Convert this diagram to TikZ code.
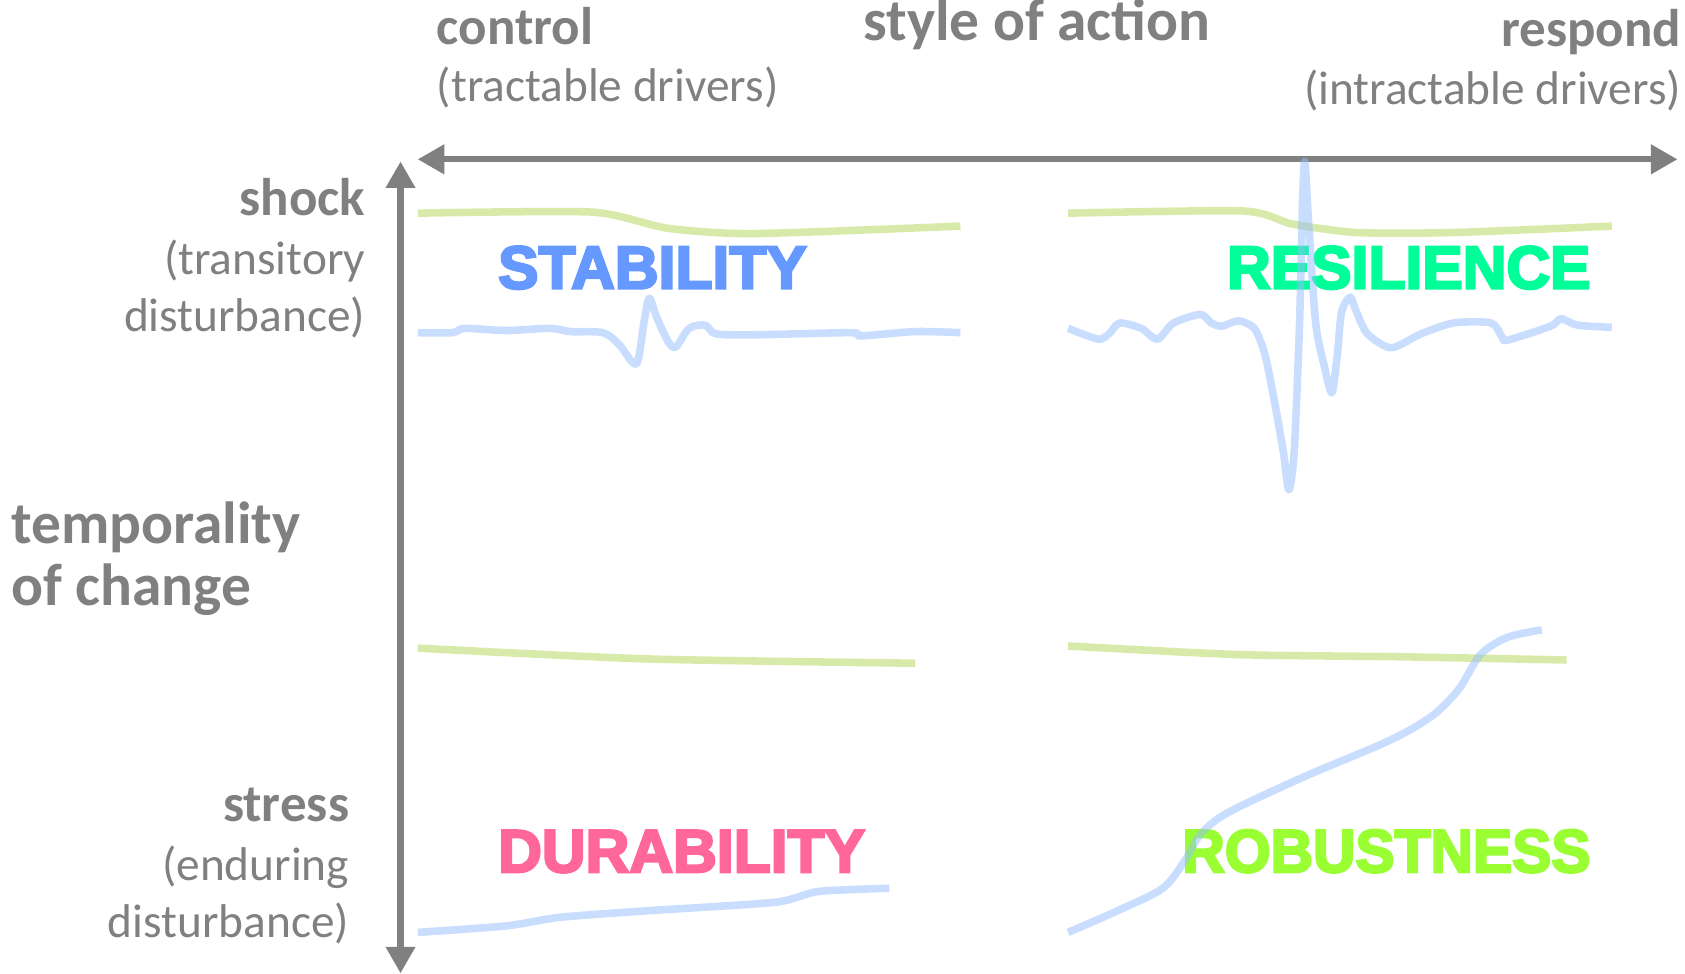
\documentclass[tikz,border=0pt]{standalone}
\usepackage{fontspec}
\setmainfont{Carlito}
\newfontfamily\capsfont[BoldFeatures={FakeBold=4}]{Liberation Sans}
\usetikzlibrary{arrows.meta,positioning}

\definecolor{axisgray}{RGB}{128,128,128}
\definecolor{trendgreen}{RGB}{178,214,86}
\definecolor{signalblue}{RGB}{148,188,255}
\definecolor{stabcol}{RGB}{102,153,255}
\definecolor{rescol}{RGB}{0,255,153}
\definecolor{durcol}{RGB}{255,102,153}
\definecolor{robcol}{RGB}{153,255,51}

\tikzset{
  axis/.style={draw=axisgray, line width=1.6pt,
    {Triangle[length=7pt,width=7.5pt]}-{Triangle[length=7pt,width=7.5pt]}},
  heading/.style={text=axisgray, inner sep=0, font=\fontsize{15.7}{19}\selectfont\bfseries},
  pole/.style={text=axisgray, inner sep=0, font=\fontsize{14}{16}\selectfont\bfseries},
  note/.style={text=axisgray, inner sep=0, font=\fontsize{12.5}{15}\selectfont},
  quality/.style={inner sep=0, font=\fontsize{16}{19}\selectfont\capsfont\bfseries},
  trend/.style={draw=trendgreen, draw opacity=0.5, line width=2pt},
  signal/.style={draw=signalblue, draw opacity=0.5, line width=2pt, line join=round}
}

\begin{document}
\begin{tikzpicture}[x=0.01cm, y=-0.01cm]
  \useasboundingbox (0,0) rectangle (1565,904);

  % axes
  \coordinate (ctl) at (388,148);
  \coordinate (rsp) at (1558,148);
  \coordinate (shk) at (372,150);
  \coordinate (str) at (372,904);
  \draw [axis] (ctl) -- (rsp);
  \draw [axis] (shk) -- (str);

  % axis labels
  \node [heading, anchor=base] (action) at (963,38) {style of action};
  \node [pole, anchor=base west] (control) at (405,41) {control};
  \node [note, anchor=base west] (tract) at (405,94) {(tractable drivers)};
  \node [pole, anchor=base east] (respond) at (1562,43) {respond};
  \node [note, anchor=base east] (intract) at (1562,97) {(intractable drivers)};

  \node [heading, anchor=base west] (temp) at (10,505) {temporality};
  \node [heading, anchor=base west] (change) at (10,562) {of change};
  \node [pole, anchor=base east] (shock) at (340,200) {shock};
  \node [note, anchor=base east] (trans) at (340,255) {(transitory};
  \node [note, anchor=base east] (dist1) at (340,308) {disturbance)};
  \node [pole, anchor=base east] (stress) at (325,763) {stress};
  \node [note, anchor=base east] (endur) at (325,818) {(enduring};
  \node [note, anchor=base east] (dist2) at (325,871) {disturbance)};

  % quadrant names
  \node [quality, text=stabcol, anchor=base west] (stab) at (462,268) {STABILITY};
  \node [quality, text=rescol, anchor=base east] (resil) at (1478,268) {RESILIENCE};
  \node [quality, text=durcol, anchor=base west] (dura) at (462,810) {DURABILITY};
  \node [quality, text=robcol, anchor=base east, xscale=0.97, transform shape] (robust) at (1478,810) {ROBUSTNESS};

  % top left: stability
  \draw [trend] plot [smooth, tension=0.4] coordinates {(388,198) (550,197) (620,212) (700,217) (892,210)};
  \draw [signal] plot [smooth, tension=0.5] coordinates {(388,309) (420,309) (432,305) (470,307) (510,305) (530,308) (560,309) (575,320) (591,338) (598,300) (603,277) (610,295) (621,318) (628,322) (640,305) (655,302) (665,310) (700,311) (790,309) (800,312) (850,308) (892,309)};

  % top right: resilience
  \draw [trend] plot [smooth, tension=0.4] coordinates {(992,198) (1155,196) (1200,208) (1260,216) (1350,216) (1497,210)};
  \draw [signal] plot [smooth, tension=0.45] coordinates {(992,305) (1020,315) (1030,310) (1040,300) (1060,305) (1075,315) (1090,300) (1115,292) (1125,300) (1135,303) (1150,298) (1165,305) (1175,330) (1185,380) (1192,420) (1197,455) (1202,420) (1207,300) (1210,180) (1212,150) (1215,200) (1222,300) (1230,340) (1237,365) (1242,330) (1246,290) (1254,276) (1260,290) (1270,310) (1292,323) (1320,310) (1350,300) (1385,300) (1395,313) (1400,316) (1440,303) (1450,296) (1465,302) (1497,304)};

  % bottom left: durability
  \draw [trend] plot [smooth, tension=0.4] coordinates {(388,602) (600,612) (850,616)};
  \draw [signal] plot [smooth, tension=0.4] coordinates {(388,866) (470,860) (520,852) (600,846) (720,838) (760,828) (826,825)};

  % bottom right: robustness
  \draw [trend] plot [smooth, tension=0.4] coordinates {(992,600) (1150,608) (1300,610) (1455,613)};
  \draw [signal] plot [smooth, tension=0.5] coordinates {(992,866) (1040,845) (1080,825) (1100,800) (1115,775) (1140,755) (1210,722) (1290,688) (1330,665) (1355,640) (1375,608) (1400,592) (1432,585)};
\end{tikzpicture}
\end{document}
